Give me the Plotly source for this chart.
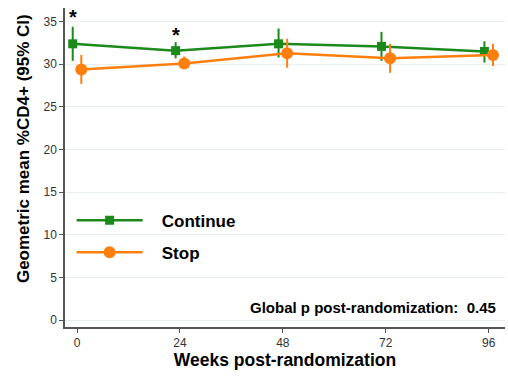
import plotly.graph_objects as go

weeks = [0, 24, 48, 72, 96]
cont_mean = [32.4, 31.6, 32.4, 32.1, 31.5]
cont_lo = [30.4, 30.7, 30.8, 30.4, 30.2]
cont_hi = [34.4, 32.6, 34.2, 33.8, 32.7]
stop_mean = [29.4, 30.1, 31.3, 30.7, 31.1]
stop_lo = [27.7, 29.5, 29.6, 29.0, 29.8]
stop_hi = [31.1, 30.9, 33.0, 32.4, 32.4]
offset = 1.0
star_weeks = [0, 24]
star_y = [35.6, 33.4]

green = "#1b8a1b"
orange = "#ff7f0e"
font = "Liberation Sans, Arial, sans-serif"

fig = go.Figure()
fig.add_trace(go.Scatter(
    x=[w - offset for w in weeks], y=cont_mean, name="   <b>Continue</b>",
    legendgroup="c",
    mode="lines+markers",
    line=dict(color=green, width=2.5),
    marker=dict(symbol="square", size=9, color=green),
    error_y=dict(type="data", array=[h - m for h, m in zip(cont_hi, cont_mean)],
                 arrayminus=[m - l for m, l in zip(cont_mean, cont_lo)],
                 color=green, thickness=2, width=0),
))
fig.add_trace(go.Scatter(
    x=[w + offset for w in weeks], y=stop_mean, name="   <b>Stop</b>",
    legendgroup="s",
    mode="lines+markers",
    line=dict(color=orange, width=2.5),
    marker=dict(symbol="circle", size=12, color=orange),
    error_y=dict(type="data", array=[h - m for h, m in zip(stop_hi, stop_mean)],
                 arrayminus=[m - l for m, l in zip(stop_mean, stop_lo)],
                 color=orange, thickness=2, width=0),
))
for w, yv in zip(star_weeks, star_y):
    fig.add_annotation(x=w - offset, y=yv, text="<b>*</b>", showarrow=False,
                       font=dict(size=20, color="black", family=font))

fig.add_annotation(xref="paper", yref="paper", x=0.985, y=0.06, xanchor="right",
                   yanchor="middle", showarrow=False,
                   text="<b>Global p post-randomization:  0.45</b>",
                   font=dict(size=15, color="black", family=font))

fig.add_annotation(xref="paper", yref="paper", x=-0.093, y=0.558,
                   xanchor="center", yanchor="middle", textangle=-90,
                   showarrow=False,
                   text="<b>Geometric mean %CD4+ (95% CI)</b>",
                   font=dict(size=17, color="black", family=font))

fig.update_layout(
    width=508, height=376,
    margin=dict(l=65, r=3, t=8, b=49),
    paper_bgcolor="white", plot_bgcolor="white",
    font=dict(family=font, color="#222"),
    showlegend=True,
    legend=dict(x=0.015, y=0.39, xanchor="left", yanchor="top",
                font=dict(size=17, color="black", family=font),
                bgcolor="rgba(0,0,0,0)", itemwidth=66, tracegroupgap=7),
    xaxis=dict(range=[-2.8, 99.8], tickvals=weeks, showgrid=False,
               showline=True, linecolor="#555", linewidth=1.5,
               ticks="outside", ticklen=4, tickcolor="#555",
               tickfont=dict(size=12, color="#333"), zeroline=False,
               title=dict(text="<b>Weeks post-randomization</b>",
                          font=dict(size=17.5, color="black"), standoff=3)),
    yaxis=dict(range=[-0.8, 36.6], tickvals=[0, 5, 10, 15, 20, 25, 30, 35],
               showgrid=True, gridcolor="#e8efef", gridwidth=1,
               showline=True, linecolor="#555", linewidth=1.5,
               ticks="outside", ticklen=4, tickcolor="#555",
               tickfont=dict(size=12, color="#333"), zeroline=False),
)

fig.write_html("out.html")
